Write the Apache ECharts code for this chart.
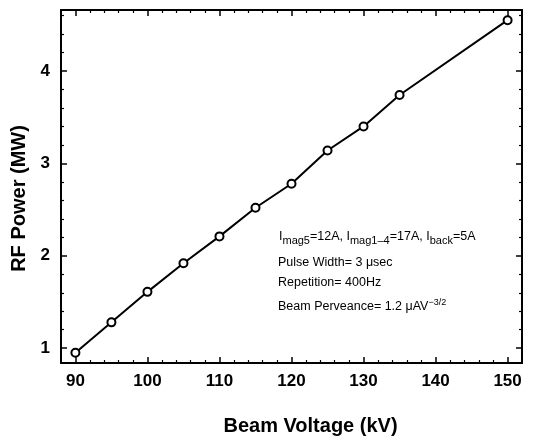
<!DOCTYPE html>
<html>
<head>
<meta charset="utf-8">
<script src="https://cdn.jsdelivr.net/npm/echarts@6/dist/echarts.min.js"></script>
<style>
  html, body { margin: 0; padding: 0; background: #fff; }
  #chart { width: 544px; height: 441px; }
</style>
</head>
<body>
<div id="chart"></div>
<script>
// beam voltage (kV) and measured RF power (MW)
const voltage = [90, 95, 100, 105, 110, 115, 120, 125, 130, 135, 150];
const power = [0.95, 1.28, 1.61, 1.92, 2.21, 2.52, 2.78, 3.14, 3.40, 3.74, 4.55];

const xRange = [88, 152];
const yRange = [0.84, 4.66];

const FONT = '"Liberation Sans", Arial, sans-serif';

let chart = echarts.init(document.getElementById('chart'));

// shared look of the frame axes
function frameAxis(extra) {
    return Object.assign({
        type: 'value',
        axisLine: { show: true, onZero: false, lineStyle: { color: '#000', width: 2 } },
        axisTick: { show: true, inside: true, length: 6, lineStyle: { color: '#000', width: 1.5 } },
        minorTick: { show: true, splitNumber: 5, length: 3, lineStyle: { color: '#000', width: 1.2 } },
        splitLine: { show: false },
        axisLabel: { show: false }
    }, extra);
}

let labelStyle = {
    show: true,
    color: '#000',
    fontFamily: FONT,
    fontWeight: 'bold',
    fontSize: 17
};

let options = {
    animation: false,
    backgroundColor: '#fff',
    grid: { left: 61, right: 22, top: 10, bottom: 76 },
    xAxis: [
        frameAxis({
            min: xRange[0], max: xRange[1], position: 'bottom',
            name: 'Beam Voltage (kV)',
            nameLocation: 'middle',
            nameGap: 53,
            nameTextStyle: { color: '#000', fontFamily: FONT, fontWeight: 'bold', fontSize: 20, padding: [0, 0, 0, 38] },
            axisLabel: Object.assign({}, labelStyle, {
                margin: 10,
                formatter: function(v) { return v % 10 === 0 ? String(v) : ''; }
            })
        }),
        frameAxis({ min: xRange[0], max: xRange[1], position: 'top' })
    ],
    yAxis: [
        frameAxis({
            min: yRange[0], max: yRange[1], position: 'left',
            name: 'RF Power (MW)',
            nameLocation: 'middle',
            nameGap: 30,
            nameTextStyle: { color: '#000', fontFamily: FONT, fontWeight: 'bold', fontSize: 20, padding: [0, 24, 0, 0] },
            axisLabel: Object.assign({}, labelStyle, {
                margin: 11,
                formatter: function(v) { return Math.abs(v - Math.round(v)) < 1e-6 ? String(Math.round(v)) : ''; }
            })
        }),
        frameAxis({ min: yRange[0], max: yRange[1], position: 'right' })
    ],
    graphic: [
        {
            type: 'text', left: 279, top: 230,
            style: {
                text: '{m|I}{s|mag5}{m|=12A, I}{s|mag1–4}{m|=17A, I}{s|back}{m|=5A}',
                fill: '#000',
                rich: {
                    m: { fontFamily: FONT, fontSize: 12.5, lineHeight: 20, fill: '#000' },
                    s: { fontFamily: FONT, fontSize: 11, lineHeight: 9, verticalAlign: 'bottom', fill: '#000' }
                }
            }
        },
        {
            type: 'text', left: 278, top: 256,
            style: { text: 'Pulse Width= 3 μsec', fill: '#000', font: '12.5px ' + FONT }
        },
        {
            type: 'text', left: 278, top: 276,
            style: { text: 'Repetition= 400Hz', fill: '#000', font: '12.5px ' + FONT }
        },
        {
            type: 'text', left: 278, top: 298,
            style: {
                text: '{m|Beam Perveance= 1.2 μAV}{p|−3/2}',
                fill: '#000',
                rich: {
                    m: { fontFamily: FONT, fontSize: 12.5, lineHeight: 18, fill: '#000' },
                    p: { fontFamily: FONT, fontSize: 9, lineHeight: 9, verticalAlign: 'top', fill: '#000' }
                }
            }
        }
    ],
    series: [{
        type: 'line',
        data: voltage.map(function(v, i) { return [v, power[i]]; }),
        xAxisIndex: 0,
        yAxisIndex: 0,
        symbol: 'emptyCircle',
        symbolSize: 8,
        lineStyle: { color: '#000', width: 2 },
        itemStyle: { color: '#000', borderColor: '#000', borderWidth: 2 }
    }]
};

chart.setOption(options);
</script>
</body>
</html>
